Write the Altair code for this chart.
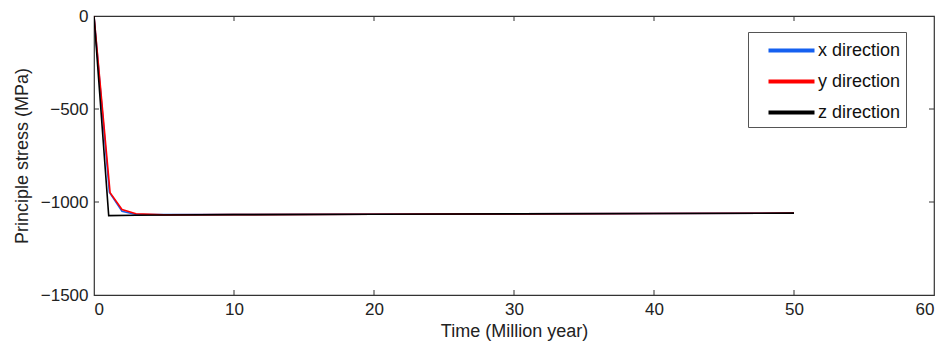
import altair as alt
import pandas as pd

# ---- data ----
x_time = [0, 1.1, 2.0, 3.0, 5, 10, 20, 30, 40, 50]
x_stress = [0, -948, -1050, -1067, -1068, -1067, -1066, -1064, -1062, -1060]

y_time = [0, 1.15, 2.0, 3.0, 5, 10, 20, 30, 40, 50]
y_stress = [0, -950, -1040, -1063, -1069, -1068, -1066, -1064, -1062, -1060]

z_time = [0, 1.05, 3.0, 5, 10, 20, 30, 40, 50]
z_stress = [0, -1073, -1071, -1070, -1068, -1066, -1064, -1062, -1060]

series_names = ["x direction", "y direction", "z direction"]
series_colors = ["#1560f0", "#ff0000", "#000000"]

x_ticks = [0, 10, 20, 30, 40, 50, 60]
y_ticks = [0, -500, -1000, -1500]

rows = []
for name, ts, vs in zip(series_names, [x_time, y_time, z_time], [x_stress, y_stress, z_stress]):
    for t, v in zip(ts, vs):
        rows.append({"series": name, "time": t, "stress": v})
df = pd.DataFrame(rows)

W, H = 840, 279
FONT = "Liberation Sans"

xscale = alt.Scale(domain=[0, 60], nice=False, zero=False)
yscale = alt.Scale(domain=[-1500, 0], nice=False, zero=False)

lines = alt.Chart(df).mark_line(strokeWidth=1.6, clip=True).encode(
    x=alt.X("time:Q", scale=xscale,
            axis=alt.Axis(values=x_ticks, title="Time (Million year)", tickSize=0,
                          format="d", labelPadding=6, titlePadding=5, grid=False,
                          domain=False, labelFontSize=17, titleFontSize=18,
                          labelColor="#222", titleColor="#222", labelFont=FONT,
                          titleFont=FONT, titleFontWeight="normal")),
    y=alt.Y("stress:Q", scale=yscale,
            axis=alt.Axis(values=y_ticks, title="Principle stress (MPa)", tickSize=0,
                          format="d", labelPadding=6, titlePadding=9, grid=False,
                          domain=False, labelFontSize=17, titleFontSize=18,
                          labelColor="#222", titleColor="#222", labelFont=FONT,
                          titleFont=FONT, titleFontWeight="normal")),
    color=alt.Color("series:N", scale=alt.Scale(domain=series_names, range=series_colors),
                    legend=alt.Legend(title=None, orient="none", legendX=654, legendY=16,
                                      symbolType="M-2,0L2,0", symbolStrokeWidth=4,
                                      symbolSize=529, labelFontSize=18, labelFont=FONT,
                                      labelColor="#111", strokeColor="#555",
                                      padding=5, rowPadding=8, fillColor="white",
                                      labelOffset=13, symbolOffset=25)),
    order=alt.Order("series:N", sort="ascending"),
)

xt = pd.DataFrame({"v": x_ticks[1:-1]})
yt = pd.DataFrame({"v": y_ticks[1:-1]})

xticks_bottom = alt.Chart(xt).mark_rule(color="#333", strokeWidth=1).encode(
    x=alt.X("v:Q", scale=xscale), y=alt.value(H), y2=alt.value(H - 5))
xticks_top = alt.Chart(xt).mark_rule(color="#333", strokeWidth=1).encode(
    x=alt.X("v:Q", scale=xscale), y=alt.value(0), y2=alt.value(5))
yticks_left = alt.Chart(yt).mark_rule(color="#333", strokeWidth=1).encode(
    y=alt.Y("v:Q", scale=yscale), x=alt.value(0), x2=alt.value(5))
yticks_right = alt.Chart(yt).mark_rule(color="#333", strokeWidth=1).encode(
    y=alt.Y("v:Q", scale=yscale), x=alt.value(W), x2=alt.value(W - 5))

chart = alt.layer(lines, xticks_bottom, xticks_top, yticks_left, yticks_right).properties(
    width=W, height=H,
    autosize=alt.AutoSizeParams(type="none"),
    padding={"left": 94, "top": 16, "right": 10, "bottom": 51},
    background="white",
).configure_view(stroke="#333", strokeWidth=1.2)

chart.save("out.html", embed_options={"renderer": "svg", "actions": False})
